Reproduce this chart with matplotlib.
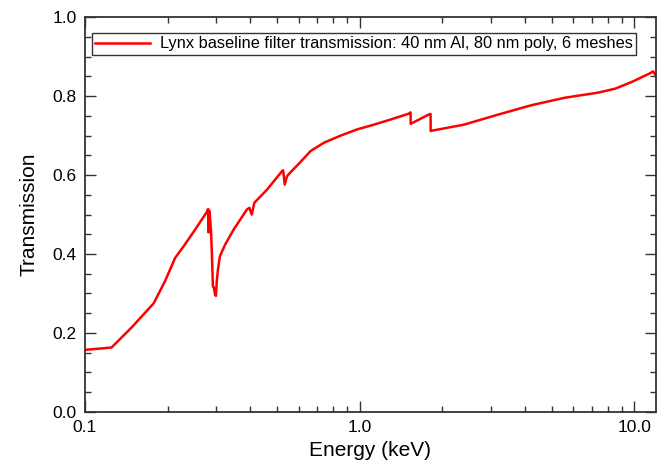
import matplotlib
matplotlib.use("Agg")
import matplotlib.pyplot as plt
from matplotlib.ticker import FixedLocator, FixedFormatter, MultipleLocator, LogLocator, NullFormatter

plt.rcParams['font.family'] = ['Liberation Sans', 'DejaVu Sans']

# energy (keV) and filter transmission
energy = [0.1, 0.125, 0.148, 0.178, 0.196, 0.213, 0.229, 0.252, 0.2788, 0.2808, 0.2818,
          0.2830, 0.2844, 0.2880, 0.2900, 0.2924, 0.2945, 0.2980, 0.3000, 0.3020,
          0.3050, 0.3100, 0.324, 0.348, 0.389, 0.397, 0.405, 0.414, 0.460, 0.522,
          0.527, 0.534, 0.544, 0.560, 0.609, 0.663, 0.741, 0.852, 0.981, 1.128, 1.298,
          1.514, 1.533, 1.535, 1.79, 1.813, 1.815, 2.40, 3.18, 4.21, 5.57, 7.37, 8.51,
          9.78, 11.4, 11.7, 12.0]
trans = [0.157, 0.163, 0.214, 0.275, 0.332, 0.390, 0.420, 0.462, 0.508, 0.514, 0.455,
         0.510, 0.508, 0.455, 0.400, 0.318, 0.316, 0.296, 0.294, 0.330,
         0.360, 0.394, 0.424, 0.462, 0.513, 0.517, 0.500, 0.530, 0.563, 0.610,
         0.612, 0.576, 0.597, 0.607, 0.633, 0.661, 0.682, 0.700, 0.716, 0.728, 0.741,
         0.756, 0.759, 0.730, 0.754, 0.755, 0.712, 0.728, 0.753, 0.777, 0.796, 0.809, 0.819,
         0.836, 0.858, 0.863, 0.852]

legend_label = "Lynx baseline filter transmission: 40 nm Al, 80 nm poly, 6 meshes"

fig = plt.figure(figsize=(6.58, 4.68), dpi=100)
ax = fig.add_axes([0.129, 0.12, 0.868, 0.843])

ax.plot(energy, trans, color='red', lw=1.8, label=legend_label)

ax.set_xscale('log')
ax.set_xlim(0.1, 12.0)
ax.set_ylim(0.0, 1.0)

ax.xaxis.set_major_locator(FixedLocator([0.1, 1.0, 10.0]))
ax.xaxis.set_major_formatter(FixedFormatter(['0.1', '1.0', '10.0']))
ax.xaxis.set_minor_locator(LogLocator(base=10, subs=range(2, 10)))
ax.xaxis.set_minor_formatter(NullFormatter())
ax.yaxis.set_major_locator(MultipleLocator(0.2))
ax.yaxis.set_minor_locator(MultipleLocator(0.05))
ax.yaxis.set_major_formatter(plt.FormatStrFormatter('%.1f'))

ax.tick_params(which='both', direction='in', top=True, right=True, labelsize=12.5, width=1.0, colors='#333333', labelcolor='black')
ax.tick_params(which='major', length=8, pad=6)
ax.tick_params(which='minor', length=4.5)
for s in ax.spines.values():
    s.set_linewidth(1.3)
    s.set_color('#333333')

ax.set_xlabel("Energy (keV)", fontsize=15, labelpad=4)
ax.set_ylabel("Transmission", fontsize=15, labelpad=10)

leg = ax.legend(loc='upper left', bbox_to_anchor=(0.012, 0.96), fontsize=11.75,
                frameon=True, fancybox=False, handlelength=3.4, borderpad=0.2,
                handletextpad=0.6, borderaxespad=0)
leg.get_frame().set_edgecolor('black')
leg.get_frame().set_linewidth(1.0)

fig.savefig("out.png", dpi=100)
